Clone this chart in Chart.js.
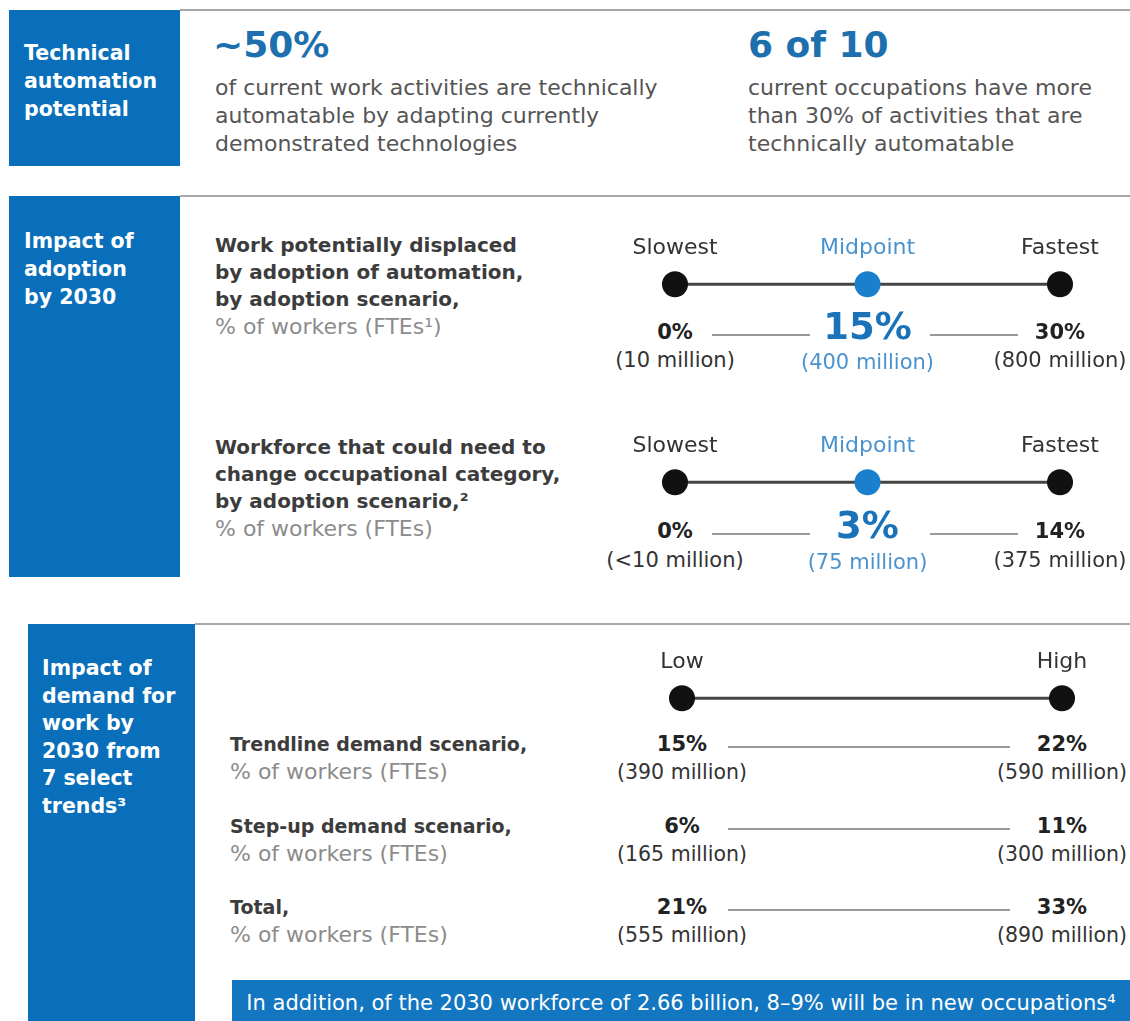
<!DOCTYPE html>
<html>
<head>
<meta charset="utf-8">
<script src="https://cdn.jsdelivr.net/npm/chart.js@4.4.1/dist/chart.umd.min.js"></script>
<style>
  html, body { margin: 0; padding: 0; background: #fff; }
  body { width: 1130px; height: 1021px; position: relative; overflow: hidden;
         font-family: "DejaVu Sans", sans-serif; color: #333; }
  .rule { position: absolute; height: 2px; background: #a8a8a8; }
  .side { position: absolute; background: #0a6fba; color: #fff; font-weight: bold;
          font-size: 20.5px; line-height: 28px; box-sizing: border-box; }
  .big { position: absolute; font-weight: bold; font-size: 36px; line-height: 44px; color: #1d6fae; }
  .body { position: absolute; font-size: 22px; line-height: 28px; color: #555; white-space: nowrap; }
  .lbl { position: absolute; font-weight: bold; font-size: 20px; line-height: 27px; color: #3c3c3c; white-space: nowrap; }
  .lbl.small { font-size: 19px; }
  .lbl .unit { font-weight: normal; font-size: 22px; color: #8c8c8c; }
  .pct { position: absolute; font-weight: bold; font-size: 21px; line-height: 26px; color: #222;
         transform: translateX(-50%); white-space: nowrap; }
  .pct.mid { font-size: 37px; line-height: 30px; color: #1a73b8; }
  .mil { position: absolute; font-size: 21px; line-height: 26px; color: #333;
         transform: translateX(-50%); white-space: nowrap; }
  .mil.sm { font-size: 20.5px; }
  .mil.mid { color: #4a93cf; }
  .conn { position: absolute; height: 1.5px; background: #9a9a9a; }
  canvas { position: absolute; }
  .banner { position: absolute; left: 232px; top: 980px; width: 898px; height: 41px; background: #1276c0;
            color: #fff; font-size: 21px; line-height: 46px; text-align: center; white-space: nowrap; }
</style>
</head>
<body>

<!-- section 1 -->
<div class="rule" style="left:180px; top:9px; width:950px;"></div>
<div class="side" style="left:9px; top:10px; width:171px; height:156px; padding:29px 0 0 15px;">Technical<br>automation<br>potential</div>
<div class="big" style="left:213px; top:23px;">~50%</div>
<div class="body" style="left:215px; top:74px;">of current work activities are technically<br>automatable by adapting currently<br>demonstrated technologies</div>
<div class="big" style="left:748px; top:23px;">6 of 10</div>
<div class="body" style="left:748px; top:74px;">current occupations have more<br>than 30% of activities that are<br>technically automatable</div>

<!-- section 2 -->
<div class="rule" style="left:180px; top:195px; width:950px;"></div>
<div class="side" style="left:9px; top:196px; width:171px; height:381px; padding:31px 0 0 15px;">Impact of<br>adoption<br>by 2030</div>
<div class="lbl" style="left:215px; top:232px;">Work potentially displaced<br>by adoption of automation,<br>by adoption scenario,<br><span class="unit">% of workers (FTEs¹)</span></div>
<div class="lbl" style="left:215px; top:434px;">Workforce that could need to<br>change occupational category,<br>by adoption scenario,²<br><span class="unit">% of workers (FTEs)</span></div>
<canvas id="displaced" width="495" height="100" style="left:620px; top:217px;"></canvas>
<canvas id="change" width="495" height="100" style="left:620px; top:415px;"></canvas>

<!-- section 3 -->
<div class="rule" style="left:195px; top:623px; width:935px;"></div>
<div class="side" style="left:28px; top:624px; width:167px; height:397px; padding:31px 0 0 14px; line-height:27.6px;">Impact of<br>demand for<br>work by<br>2030 from<br>7 select<br>trends³</div>
<canvas id="demand" width="490" height="100" style="left:627px; top:631px;"></canvas>
<div class="banner">In addition, of the 2030 workforce of 2.66 billion, 8–9% will be in new occupations⁴</div>

<script>
// adoption scenarios
const scenarios = ["Slowest", "Midpoint", "Fastest"];
const displacedPct = [0, 15, 30];
const displacedMillions = ["10 million", "400 million", "800 million"];
const changePct = [0, 3, 14];
const changeMillions = ["<10 million", "75 million", "375 million"];

// demand scenarios
const demandLevels = ["Low", "High"];
const demandRows = ["Trendline demand scenario,", "Step-up demand scenario,", "Total,"];
const trendlinePct = [15, 22];
const trendlineMillions = ["390 million", "590 million"];
const stepUpPct = [6, 11];
const stepUpMillions = ["165 million", "300 million"];
const totalPct = [21, 33];
const totalMillions = ["555 million", "890 million"];

const DARK = "#111";
const BLUE = "#1a7fcc";
const MIDTXT = "#4a93cf";

function dotLine(id, labels, dotColors, tickColors) {
  const canvas = document.getElementById(id);
  return new Chart(canvas, {
    type: "line",
    data: {
      labels,
      datasets: [{
        data: labels.map(() => 0),
        borderColor: "#444",
        borderWidth: 3,
        pointRadius: 13,
        pointHoverRadius: 13,
        pointBorderWidth: 0,
        pointBackgroundColor: dotColors,
        clip: false,
      }],
    },
    options: {
      responsive: false,
      animation: false,
      events: [],
      layout: { padding: { left: 55, right: 55, top: 14, bottom: 14 } },
      plugins: { legend: { display: false }, tooltip: { enabled: false } },
      scales: {
        x: {
          position: "top",
          offset: false,
          grid: { display: false, drawTicks: false },
          border: { display: false },
          ticks: {
            padding: 4,
            font: { family: "DejaVu Sans", size: 22 },
            color: (c) => tickColors[c.index],
          },
        },
        y: { display: false, min: -1, max: 1 },
      },
    },
  });
}

function pointXs(chart) {
  const left = chart.canvas.offsetLeft;
  return chart.data.labels.map((_, i) => left + chart.scales.x.getPixelForValue(i));
}

function put(cls, text, x, cy, lh) {
  const d = document.createElement("div");
  d.className = cls;
  d.textContent = text;
  d.style.left = x + "px";
  d.style.top = (cy - lh / 2) + "px";
  document.body.appendChild(d);
  return d;
}

function rule(x1, x2, y) {
  const d = document.createElement("div");
  d.className = "conn";
  d.style.left = x1 + "px";
  d.style.width = (x2 - x1) + "px";
  d.style.top = y + "px";
  document.body.appendChild(d);
}

function scenarioValues(chart, pcts, mills, yPct, yMil) {
  const xs = pointXs(chart);
  pcts.forEach((p, i) => {
    const mid = i === 1;
    put("pct" + (mid ? " mid" : ""), p + "%", xs[i], mid ? yPct - 5 : yPct, mid ? 30 : 26);
    put("mil" + (mid ? " mid" : ""), "(" + mills[i] + ")", xs[i], mid ? yMil + 2 : yMil, 26);
  });
  rule(xs[0] + 37, xs[1] - 58, yPct + 2);
  rule(xs[1] + 62, xs[2] - 42, yPct + 2);
}

const scenarioDots = [DARK, BLUE, DARK];
const scenarioTicks = ["#333", MIDTXT, "#333"];

const c1 = dotLine("displaced", scenarios, scenarioDots, scenarioTicks);
scenarioValues(c1, displacedPct, displacedMillions, 332, 360);

const c2 = dotLine("change", scenarios, scenarioDots, scenarioTicks);
scenarioValues(c2, changePct, changeMillions, 531, 560);

const c3 = dotLine("demand", demandLevels, [DARK, DARK], ["#333", "#333"]);
const xs3 = pointXs(c3);
const rowPcts = [trendlinePct, stepUpPct, totalPct];
const rowMills = [trendlineMillions, stepUpMillions, totalMillions];
const rowY = [744, 826, 907];
demandRows.forEach((name, r) => {
  const y = rowY[r];
  const lab = document.createElement("div");
  lab.className = "lbl small";
  lab.style.left = "230px";
  lab.style.top = (y - 13.5) + "px";
  lab.innerHTML = name + '<br><span class="unit">% of workers (FTEs)</span>';
  document.body.appendChild(lab);
  put("pct", rowPcts[r][0] + "%", xs3[0], y, 26);
  put("pct", rowPcts[r][1] + "%", xs3[1], y, 26);
  put("mil sm", "(" + rowMills[r][0] + ")", xs3[0], y + 28, 26);
  put("mil sm", "(" + rowMills[r][1] + ")", xs3[1], y + 28, 26);
  rule(xs3[0] + 46, xs3[1] - 52, y + 2);
});
</script>
</body>
</html>
